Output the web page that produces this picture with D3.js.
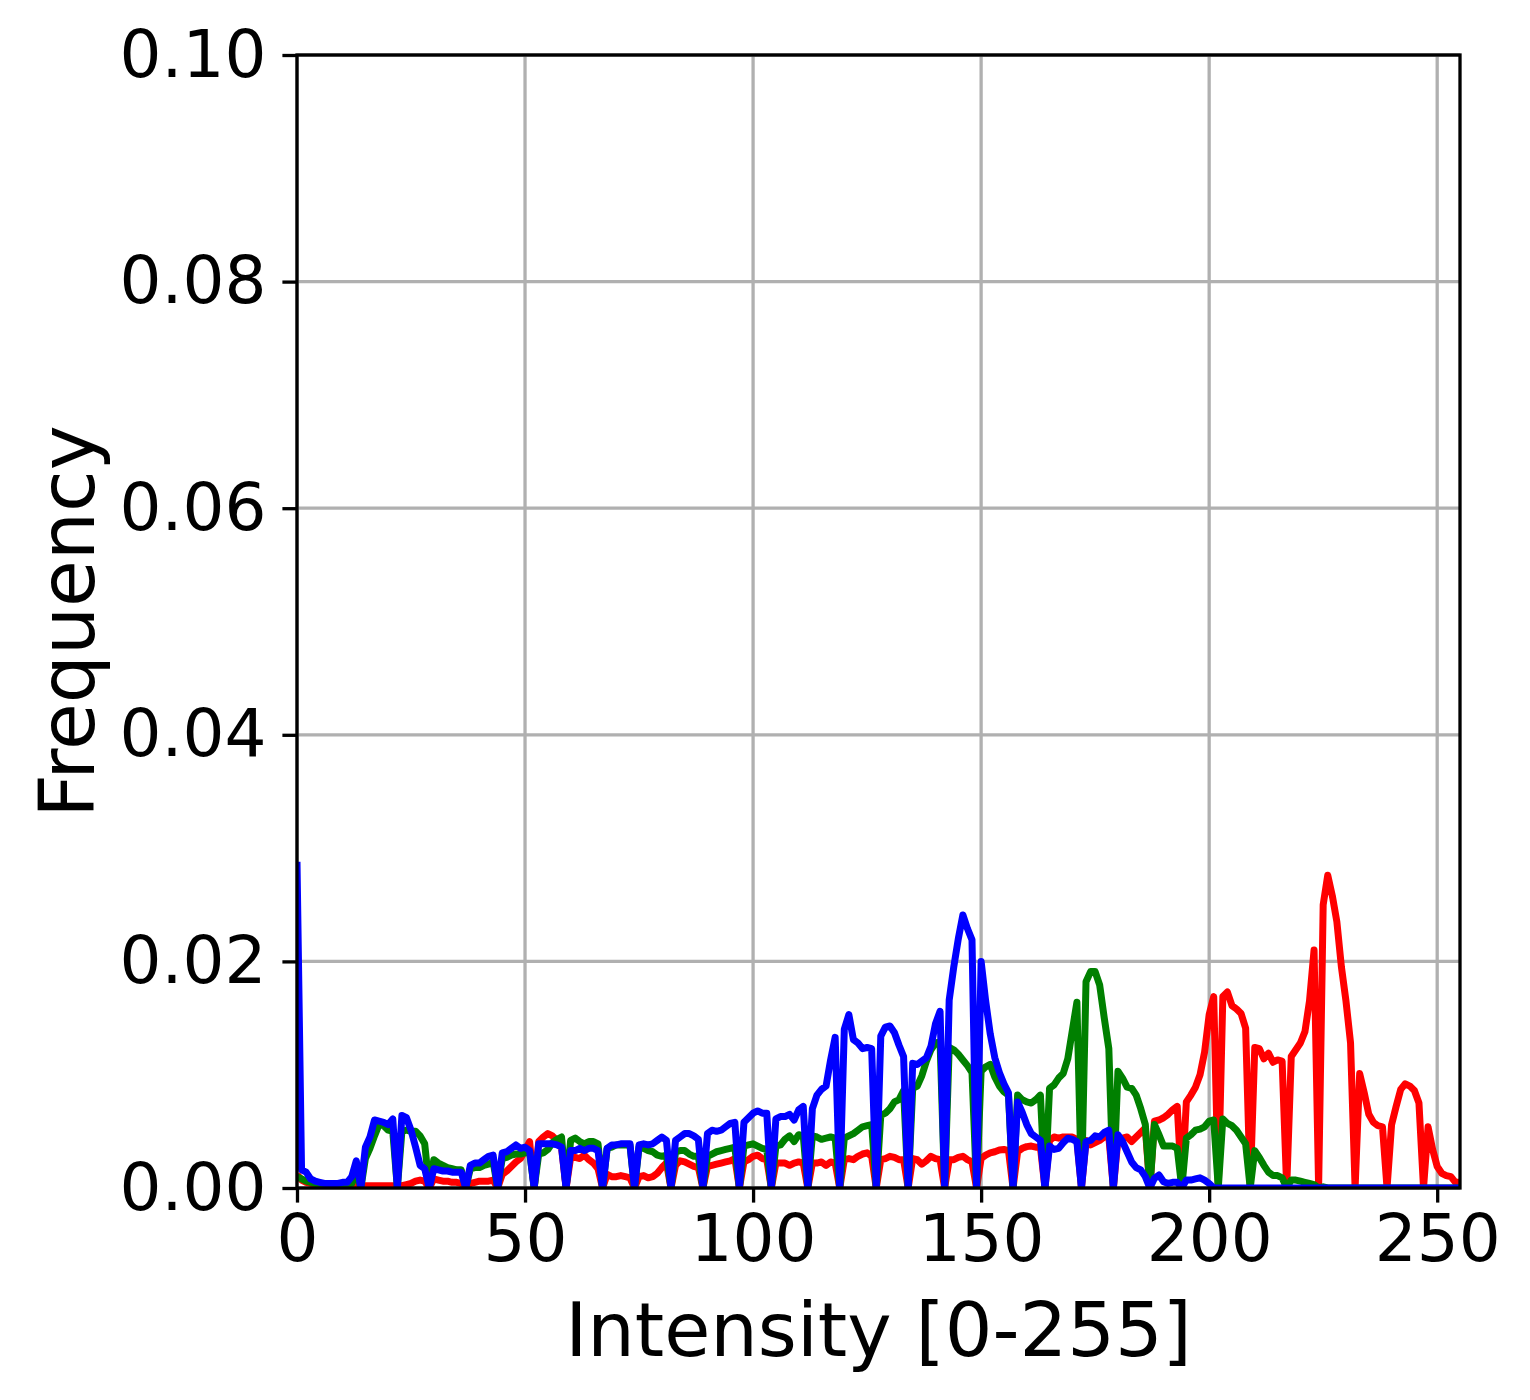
<!DOCTYPE html>
<html>
<head>
<meta charset="utf-8">
<script src="https://cdn.jsdelivr.net/npm/d3@7"></script>
<style>
  body { margin: 0; background: #fff; }
  text { font-family: "DejaVu Sans", sans-serif; fill: #000; }
</style>
</head>
<body>
<svg id="chart" width="1530" height="1400"></svg>
<script>
/* global d3 */
// histogram values per channel, in thousandths (0.001 frequency units), bins 0..255
const redPermil = [
  1.2, 0.7, 0.5, 0.4, 0.3, 0.3, 0.2, 0.2, 0.3, 0.3,
  0.2, 0.2, 0.2, 0.2, 0, 0.2, 0.2, 0.2, 0.2, 0.2,
  0.2, 0.2, 0, 0.2, 0.3, 0.4, 0.6, 0.7, 0.6, 0,
  0.8, 0.7, 0.6, 0.6, 0.5, 0.5, 0.4, 0, 0.4, 0.5,
  0.6, 0.6, 0.6, 0.7, 0, 1.2, 1.5, 1.9, 2.3, 2.6,
  3.3, 4.1, 0, 4.1, 4.5, 4.8, 4.6, 4.2, 3.6, 0,
  2.7, 2.7, 2.6, 2.9, 2.5, 2.2, 1.7, 0, 1.2, 1.0,
  1.0, 1.1, 1.0, 0.9, 0, 1.0, 1.1, 0.9, 1.0, 1.3,
  1.8, 2.2, 0, 2.0, 2.4, 2.3, 2.1, 1.9, 1.8, 0,
  1.9, 2.0, 2.1, 2.2, 2.3, 2.4, 2.6, 0, 2.3, 2.5,
  2.8, 2.9, 2.6, 2.5, 0, 2.2, 2.2, 2.2, 2.0, 2.2,
  2.3, 2.2, 0, 2.2, 2.2, 2.3, 2.0, 2.3, 2.2, 0,
  2.5, 2.6, 2.5, 2.8, 3.0, 3.1, 2.8, 0, 2.5, 2.6,
  2.8, 2.7, 2.5, 2.5, 0, 2.6, 2.5, 2.1, 2.4, 2.8,
  2.6, 2.5, 0, 2.5, 2.5, 2.7, 2.8, 2.5, 2.3, 0,
  2.6, 2.9, 3.1, 3.2, 3.35, 3.4, 3.3, 0, 3.2, 3.5,
  3.65, 3.7, 3.6, 3.6, 0, 4.2, 4.5, 4.4, 4.5, 4.5,
  4.5, 4.3, 0, 4.2, 3.8, 4.0, 4.2, 4.5, 4.5, 0,
  4.3, 4.4, 4.5, 4.1, 4.5, 4.9, 5.3, 0, 5.9, 6.0,
  6.2, 6.5, 6.9, 7.2, 0, 7.6, 8.2, 8.9, 10.0, 12.0,
  15.3, 16.9, 0, 16.9, 17.3, 16.1, 15.8, 15.4, 14.1, 0,
  12.4, 12.3, 11.4, 11.9, 11.1, 11.3, 11.2, 0, 11.6, 12.2,
  12.8, 13.8, 16.5, 21.0, 0, 25.0, 27.6, 25.8, 23.5, 19.5,
  16.5, 12.8, 0, 10.1, 8.4, 6.5, 5.8, 5.5, 5.4, 0,
  5.6, 7.2, 8.7, 9.2, 9.0, 8.6, 7.5, 0, 5.4, 3.4,
  1.9, 1.3, 1.1, 1.0, 0.5, 0.5
]

const greenPermil = [
  1.0, 0.8, 0.6, 0.5, 0.4, 0.4, 0.3, 0.3, 0.3, 0.3,
  0.3, 0.3, 0.4, 1.5, 0, 2.6, 3.5, 4.6, 5.6, 5.5,
  5.1, 5.0, 0, 5.0, 5.1, 5.0, 5.0, 4.6, 3.9, 0,
  2.5, 2.2, 2.0, 1.8, 1.7, 1.6, 1.6, 0, 1.7, 1.8,
  1.8, 2.0, 2.1, 2.3, 0, 2.6, 2.7, 2.9, 3.0, 3.0,
  3.1, 3.2, 0, 3.0, 3.1, 3.4, 4.0, 4.3, 4.5, 0,
  4.2, 4.4, 4.1, 3.9, 4.1, 4.1, 3.9, 0, 3.5, 3.6,
  3.8, 3.8, 3.8, 3.8, 0, 3.6, 3.5, 3.3, 3.2, 2.9,
  2.8, 2.9, 0, 3.2, 3.3, 3.3, 3.0, 2.8, 2.8, 0,
  2.8, 3.0, 3.2, 3.3, 3.4, 3.5, 3.6, 0, 3.7, 3.8,
  3.9, 3.7, 3.5, 3.4, 0, 3.7, 3.8, 4.3, 4.6, 4.1,
  4.7, 4.6, 0, 4.6, 4.5, 4.3, 4.4, 4.5, 4.4, 0,
  4.4, 4.6, 4.8, 5.1, 5.4, 5.5, 5.6, 0, 6.4, 6.6,
  7.0, 7.6, 7.8, 8.6, 0, 8.8, 9.0, 9.9, 11.2, 12.2,
  12.8, 12.9, 0, 12.4, 12.2, 11.8, 11.3, 10.8, 10.2, 0,
  10.3, 10.7, 10.9, 9.8, 9.0, 8.5, 8.2, 0, 8.2, 7.8,
  7.6, 7.5, 7.8, 8.2, 0, 8.8, 9.1, 9.7, 10.1, 11.4,
  13.9, 16.4, 0, 18.2, 19.1, 19.1, 17.9, 15.0, 12.3, 0,
  10.3, 9.7, 8.9, 8.8, 8.2, 7.0, 5.6, 0, 5.6, 4.7,
  3.7, 3.7, 3.7, 3.5, 0, 4.4, 4.7, 5.1, 5.2, 5.4,
  5.9, 6.0, 0, 6.1, 5.7, 5.5, 5.1, 4.5, 3.9, 0,
  3.3, 2.7, 2.0, 1.4, 1.1, 1.1, 0.9, 0, 0.7, 0.7,
  0.6, 0.5, 0.4, 0.3, 0, 0.1, 0, 0, 0, 0,
  0, 0, 0, 0, 0, 0, 0, 0, 0, 0,
  0, 0, 0, 0, 0, 0, 0, 0, 0, 0,
  0, 0, 0, 0, 0, 0
]

const bluePermil = [
  28.8, 1.6, 1.4, 0.8, 0.6, 0.5, 0.4, 0.4, 0.4, 0.4,
  0.5, 0.5, 1.0, 2.4, 0, 3.6, 4.5, 6.0, 5.9, 5.8,
  5.6, 6.1, 0, 6.4, 6.2, 5.1, 3.6, 2.0, 1.7, 0,
  1.7, 1.6, 1.5, 1.5, 1.4, 1.4, 1.4, 0, 2.0, 2.2,
  2.2, 2.5, 2.8, 2.9, 0, 3.1, 3.2, 3.5, 3.8, 3.5,
  3.6, 3.3, 0, 3.9, 3.9, 3.9, 3.9, 3.8, 3.6, 0,
  3.3, 3.3, 3.5, 3.3, 3.5, 3.5, 3.3, 0, 3.5, 3.8,
  3.8, 3.9, 3.9, 3.9, 0, 3.8, 3.9, 3.8, 3.9, 4.2,
  4.5, 4.2, 0, 4.2, 4.5, 4.8, 4.8, 4.6, 4.3, 0,
  4.8, 5.1, 5.0, 5.1, 5.4, 5.7, 5.8, 0, 5.8, 6.2,
  6.6, 6.8, 6.6, 6.6, 0, 6.1, 6.3, 6.3, 6.5, 6.0,
  6.9, 7.2, 0, 7.0, 8.2, 8.7, 9.0, 11.3, 13.3, 0,
  14.0, 15.3, 13.1, 12.8, 12.3, 12.4, 12.3, 0, 13.4, 14.2,
  14.3, 13.7, 12.6, 11.6, 0, 11.0, 10.9, 11.2, 11.5, 12.5,
  14.5, 15.6, 0, 16.6, 19.5, 22.0, 24.1, 22.9, 21.9, 0,
  20.0, 16.5, 13.6, 11.5, 10.2, 9.2, 8.4, 0, 7.6, 6.7,
  5.6, 4.8, 4.5, 4.2, 0, 3.7, 3.4, 3.5, 4.0, 4.4,
  4.3, 4.1, 0, 4.1, 4.2, 4.6, 4.5, 4.9, 5.1, 0,
  4.7, 4.1, 3.2, 2.3, 1.8, 1.6, 1.0, 0, 0.85, 1.15,
  0.56, 0.4, 0.5, 0.5, 0, 0.7, 0.7, 0.8, 0.9, 0.7,
  0.4, 0, 0, 0, 0, 0, 0, 0, 0, 0,
  0, 0, 0, 0, 0, 0, 0, 0, 0, 0,
  0, 0, 0, 0, 0, 0, 0, 0, 0, 0,
  0, 0, 0, 0, 0, 0, 0, 0, 0, 0,
  0, 0, 0, 0, 0, 0, 0, 0, 0, 0,
  0, 0, 0, 0, 0, 0
]

const xTicks = [0, 50, 100, 150, 200, 250]
const yTicks = [0, 0.02, 0.04, 0.06, 0.08, 0.10]
const xLabel = 'Intensity [0-255]'
const yLabel = 'Frequency'

const channels = [
  { name: 'red', color: '#ff0000', values: redPermil },
  { name: 'green', color: '#008000', values: greenPermil },
  { name: 'blue', color: '#0000ff', values: bluePermil }
]

const margin = { top: 55, right: 70, bottom: 212, left: 297 }
const svg = d3.select('#chart')
const width = +svg.attr('width') - margin.left - margin.right
const height = +svg.attr('height') - margin.top - margin.bottom

const g = svg.append('g').attr('transform', 'translate(' + margin.left + ',' + margin.top + ')')

const x = d3.scaleLinear().domain([0, 255]).range([0, width])
const y = d3.scaleLinear().domain([0, 0.1]).range([height, 0])

// grid first so the curves sit on top of it
g.append('g')
  .selectAll('line')
  .data(xTicks)
  .join('line')
  .attr('x1', d => x(d)).attr('x2', d => x(d))
  .attr('y1', 0).attr('y2', height)
  .style('stroke', '#b0b0b0').style('stroke-width', 3.3)

g.append('g')
  .selectAll('line')
  .data(yTicks)
  .join('line')
  .attr('x1', 0).attr('x2', width)
  .attr('y1', d => y(d)).attr('y2', d => y(d))
  .style('stroke', '#b0b0b0').style('stroke-width', 3.3)

g.append('defs').append('clipPath')
  .attr('id', 'clip_plot')
  .append('rect')
  .attr('width', width)
  .attr('height', height)

const line = d3.line()
  .x((d, i) => x(i))
  .y(d => y(d / 1000))

g.append('g')
  .attr('clip-path', 'url(#clip_plot)')
  .selectAll('path')
  .data(channels)
  .join('path')
  .attr('d', d => line(d.values))
  .style('fill', 'none')
  .style('stroke', d => d.color)
  .style('stroke-width', 7)
  .style('stroke-linejoin', 'round')
  .style('stroke-linecap', 'butt')

// axes
const xAxis = d3.axisBottom(x).tickValues(xTicks).tickFormat(d3.format('d'))
  .tickSizeInner(14.6).tickSizeOuter(0).tickPadding(12)
const yAxis = d3.axisLeft(y).tickValues(yTicks).tickFormat(d3.format('.2f'))
  .tickSizeInner(14.6).tickSizeOuter(0).tickPadding(16)

const gx = g.append('g').attr('transform', 'translate(0,' + height + ')').call(xAxis)
const gy = g.append('g').call(yAxis)

for (const ax of [gx, gy]) {
  ax.select('.domain').remove()
  ax.selectAll('.tick line').style('stroke', '#000').style('stroke-width', 3.3)
  ax.selectAll('.tick text')
    .style('font-size', '66px')
    .style('font-family', '"DejaVu Sans", sans-serif')
    .style('fill', '#000')
}

// spines on all four sides
g.append('rect')
  .attr('width', width)
  .attr('height', height)
  .style('fill', 'none')
  .style('stroke', '#000')
  .style('stroke-width', 3.3)

g.append('text')
  .text(xLabel)
  .attr('x', width / 2)
  .attr('y', height + 168)
  .attr('text-anchor', 'middle')
  .style('font-size', '75px')

g.append('text')
  .text(yLabel)
  .attr('transform', 'translate(' + (94 - margin.left) + ',' + (height / 2) + ') rotate(-90)')
  .attr('text-anchor', 'middle')
  .style('font-size', '76px')
</script>
</body>
</html>
